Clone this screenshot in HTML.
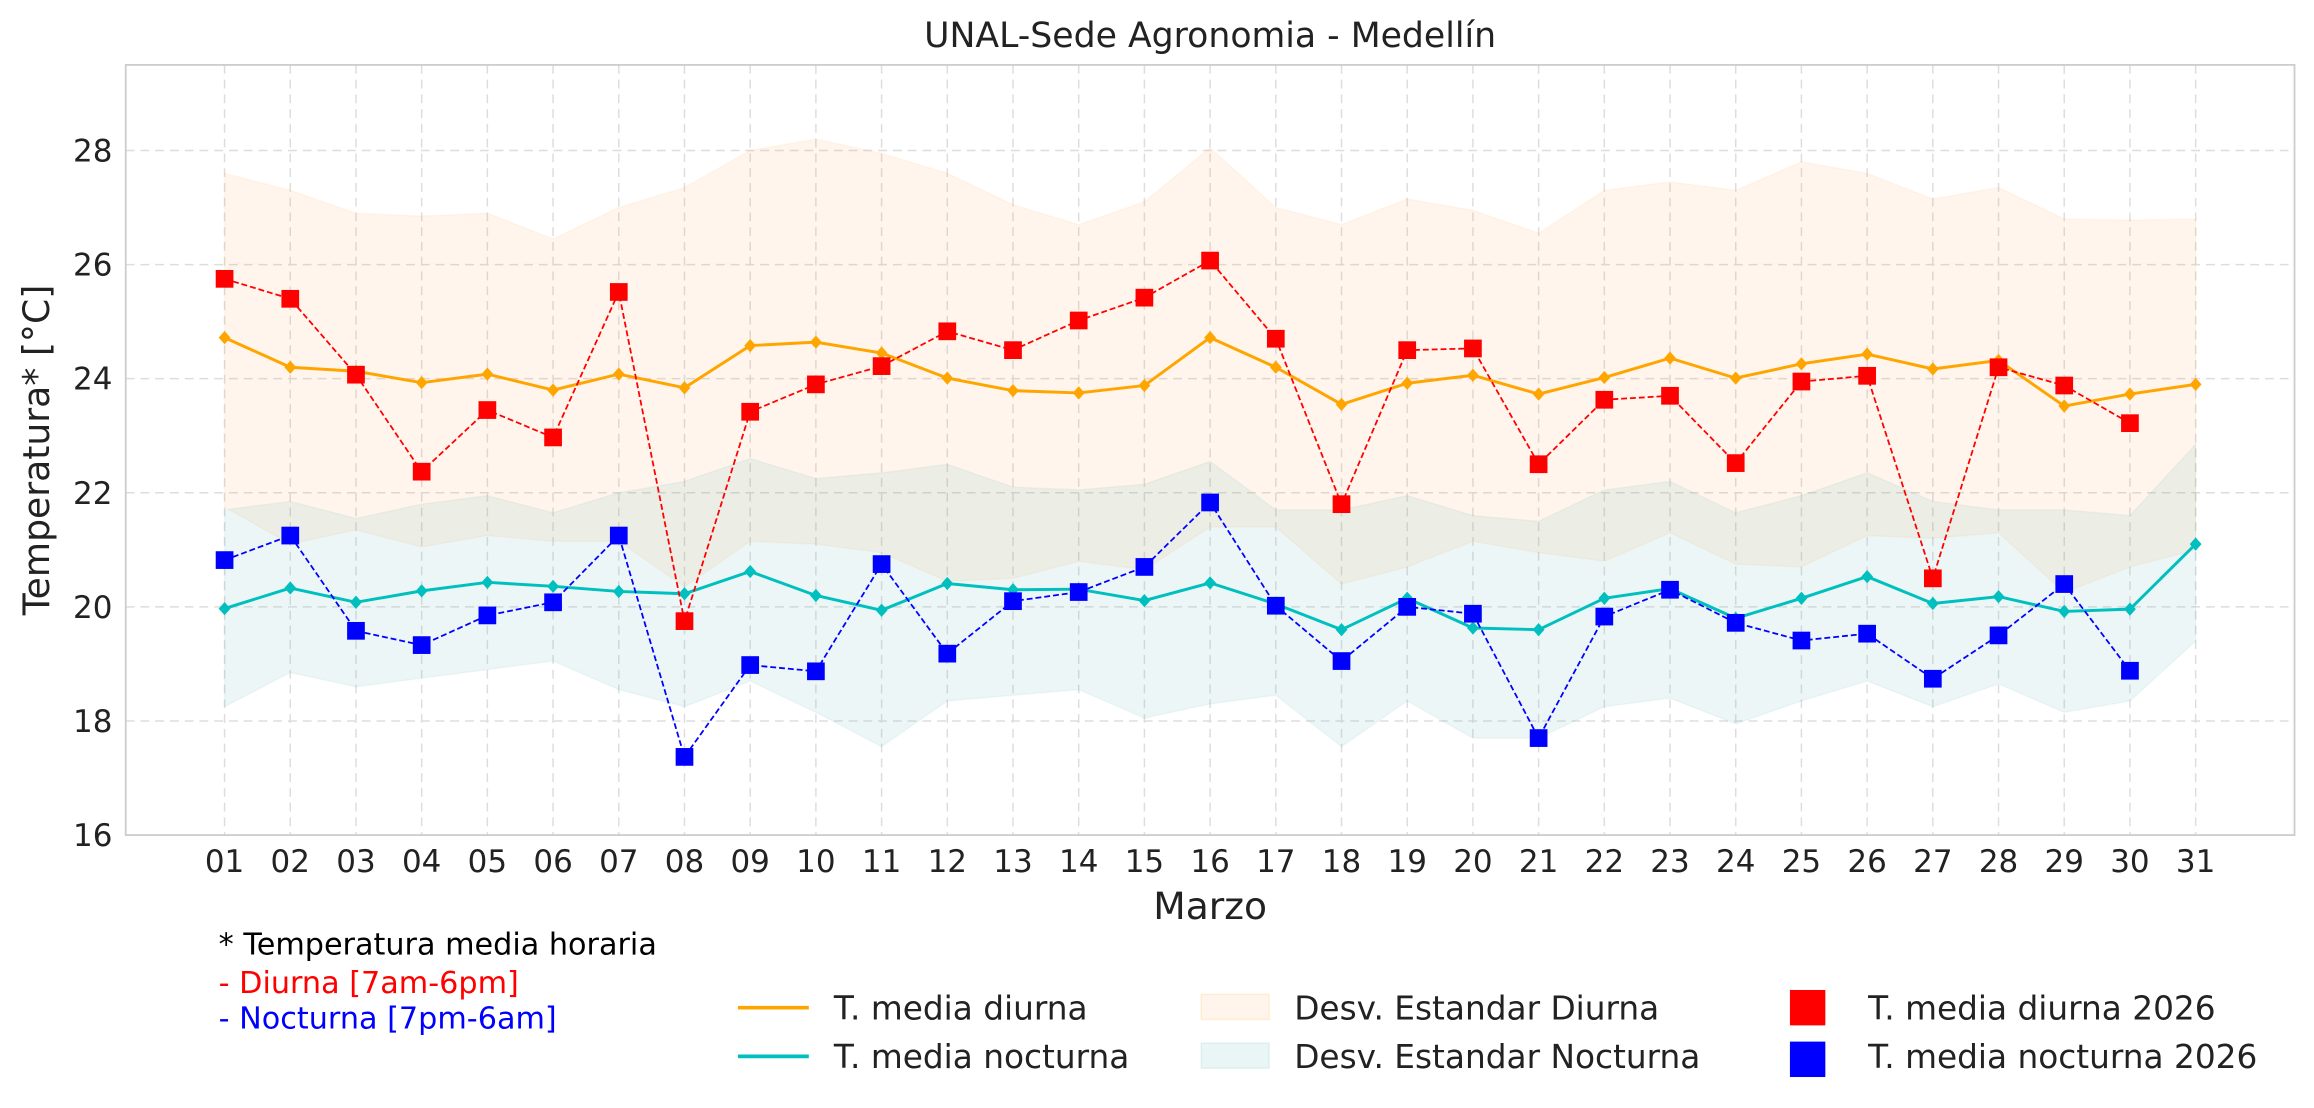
<!DOCTYPE html>
<html><head><meta charset="utf-8"><style>html,body{margin:0;padding:0;background:#fff}svg{display:block}</style></head>
<body>
<svg id="s" width="2314" height="1108" viewBox="0 0 1568 751" xmlns="http://www.w3.org/2000/svg" font-family="DejaVu Sans, Liberation Sans, sans-serif">
<rect width="1568" height="751" fill="#fff"/>
<g id="g"></g>
<text x="820" y="32" font-size="23.5" text-anchor="middle" fill="#222">UNAL-Sede Agronomia - Medellín</text>
<text x="820" y="623" font-size="25.5" text-anchor="middle" fill="#222">Marzo</text>
<text transform="translate(33,305) rotate(-90)" font-size="24.5" text-anchor="middle" fill="#222">Temperatura* [°C]</text>
<text x="148" y="647" font-size="20.5" fill="#000">* Temperatura media horaria</text>
<text x="148" y="673" font-size="20.5" fill="#f00">- Diurna [7am-6pm]</text>
<text x="148" y="697" font-size="20.5" fill="#00f">- Nocturna [7pm-6am]</text>
<line x1="500" y1="683" x2="548" y2="683" stroke="#FFA500" stroke-width="2.5"/>
<text x="565" y="691" font-size="22.2" fill="#222">T. media diurna</text>
<line x1="500" y1="716" x2="548" y2="716" stroke="#00BFBF" stroke-width="2.5"/>
<text x="565" y="724" font-size="22.2" fill="#222">T. media nocturna</text>
<rect x="814" y="674" width="46" height="17" fill="#FFA040" fill-opacity="0.1" stroke="#FFA500" stroke-opacity="0.15"/>
<text x="877" y="691" font-size="22.2" fill="#222">Desv. Estandar Diurna</text>
<rect x="814" y="707" width="46" height="17" fill="#5fb3b3" fill-opacity="0.13" stroke="#5fb3b3" stroke-opacity="0.15"/>
<text x="877" y="724" font-size="22.2" fill="#222">Desv. Estandar Nocturna</text>
<rect x="1213" y="671" width="24" height="24" fill="#f00"/>
<text x="1266" y="691" font-size="22.2" fill="#222">T. media diurna 2026</text>
<rect x="1213" y="706" width="24" height="24" fill="#00f"/>
<text x="1266" y="724" font-size="22.2" fill="#222">T. media nocturna 2026</text>
</svg>
<script>
var NS="http://www.w3.org/2000/svg",g=document.getElementById("g");
function X(i){return 152+i*44.533}function Y(v){return 566-(v-16)*38.667}
function el(t,a,p){var e=document.createElementNS(NS,t);for(var k in a)e.setAttribute(k,a[k]);(p||g).appendChild(e);return e}
var dm=[24.72,24.2,24.13,23.93,24.08,23.8,24.08,23.84,24.58,24.64,24.45,24.01,23.79,23.75,23.88,24.72,24.2,23.55,23.92,24.06,23.73,24.02,24.36,24.01,24.26,24.43,24.17,24.32,23.52,23.73,23.9];
var du=[27.6,27.3,26.9,26.85,26.9,26.45,27.0,27.35,28.0,28.2,27.95,27.6,27.05,26.7,27.1,28.05,27.0,26.7,27.15,26.95,26.55,27.3,27.45,27.3,27.8,27.6,27.15,27.35,26.8,26.78,26.8];
var dl=[21.75,21.1,21.35,21.05,21.25,21.15,21.15,20.35,21.15,21.1,20.95,20.45,20.5,20.8,20.65,21.4,21.4,20.4,20.7,21.15,20.95,20.8,21.3,20.75,20.7,21.25,21.2,21.3,20.25,20.7,21.0];
var nm=[19.97,20.33,20.08,20.28,20.43,20.36,20.27,20.23,20.62,20.2,19.94,20.41,20.3,20.31,20.11,20.42,20.05,19.6,20.15,19.63,19.6,20.15,20.32,19.8,20.15,20.53,20.06,20.18,19.92,19.96,21.1];
var nu=[21.7,21.85,21.55,21.8,21.95,21.65,22.0,22.2,22.6,22.25,22.35,22.5,22.1,22.05,22.15,22.55,21.7,21.7,21.95,21.6,21.5,22.05,22.2,21.65,21.95,22.35,21.85,21.7,21.7,21.6,22.85];
var nl=[18.25,18.85,18.6,18.75,18.9,19.05,18.55,18.25,18.7,18.15,17.55,18.35,18.45,18.55,18.05,18.3,18.45,17.55,18.35,17.7,17.7,18.25,18.4,17.95,18.35,18.7,18.25,18.65,18.15,18.35,19.4];
var r=[25.75,25.4,24.07,22.37,23.45,22.97,25.52,19.75,23.42,23.9,24.22,24.83,24.5,25.02,25.42,26.07,24.7,21.8,24.5,24.53,22.5,23.63,23.7,22.52,23.95,24.05,20.5,24.2,23.88,23.22];
var b=[20.82,21.25,19.58,19.33,19.85,20.08,21.25,17.37,18.98,18.87,20.75,19.18,20.1,20.26,20.7,21.83,20.02,19.05,20.0,19.88,17.7,19.83,20.3,19.72,19.41,19.53,18.74,19.5,20.4,18.88];
for(var v=16;v<=28;v+=2){if(v>16)el("line",{x1:85,x2:1555,y1:Y(v),y2:Y(v),stroke:"#ddd","stroke-dasharray":"6,4"});
 var t=el("text",{x:76,y:Y(v)+7.5,"font-size":21,"text-anchor":"end",fill:"#222"});t.textContent=v;}
for(var i=0;i<31;i++){el("line",{x1:X(i),x2:X(i),y1:44,y2:566,stroke:"#ddd","stroke-dasharray":"6,4"});
 var t=el("text",{x:X(i),y:591,"font-size":21,"text-anchor":"middle",fill:"#222"});t.textContent=(i<9?"0":"")+(i+1);}
function band(u,l,c,o){var p="";for(var i=0;i<u.length;i++)p+=(i?"L":"M")+X(i)+","+Y(u[i]);for(var i=l.length-1;i>=0;i--)p+="L"+X(i)+","+Y(l[i]);el("path",{d:p+"Z",fill:c,"fill-opacity":o,stroke:c,"stroke-opacity":0.08})}
band(du,dl,"#FFA040",0.1);band(nu,nl,"#5fb3b3",0.12);
function line(a,c,w,dash){var p="";a.forEach(function(v,i){p+=(i?"L":"M")+X(i)+","+Y(v)});var o={d:p,fill:"none",stroke:c,"stroke-width":w};if(dash)o["stroke-dasharray"]=dash;el("path",o)}
function diam(a,c){a.forEach(function(v,i){var x=X(i),y=Y(v);el("path",{d:"M"+x+","+(y-4.5)+"L"+(x+4)+","+y+"L"+x+","+(y+4.5)+"L"+(x-4)+","+y+"Z",fill:c})})}
function sq(a,c){a.forEach(function(v,i){el("rect",{x:X(i)-6,y:Y(v)-6,width:12,height:12,fill:c})})}
line(dm,"#FFA500",2);diam(dm,"#FFA500");line(nm,"#00BFBF",2);diam(nm,"#00BFBF");
line(r,"#f00",1.2,"4,2");sq(r,"#f00");line(b,"#00f",1.2,"4,2");sq(b,"#00f");
el("rect",{x:85,y:44,width:1470,height:522,fill:"none",stroke:"#ccc","stroke-width":1.2});
</script>
</body></html>
